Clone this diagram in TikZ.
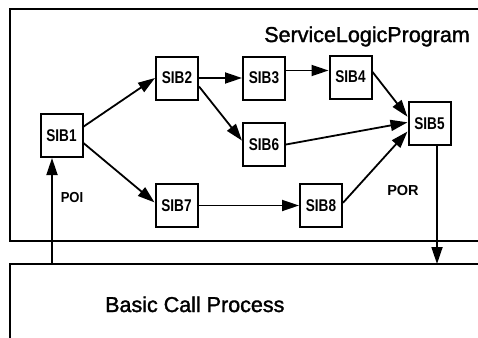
\documentclass[tikz,border=0pt]{standalone}
\usepackage{fontspec}
\setmainfont{Liberation Sans}
\newfontfamily\titlefont[FakeBold=1.5]{Liberation Sans}
\usepackage{graphicx}
\usetikzlibrary{arrows.meta}

% narrow, heavy lettering for the building-block labels
\newcommand{\siblabel}[1]{\scalebox{0.8}[1]{#1}}

\tikzset{
  sib/.style={draw, line width=2pt, minimum width=42pt, minimum height=43pt,
              inner sep=0pt, font=\fontsize{17}{17}\selectfont\bfseries},
  flow/.style={line width=1.8pt, -{Triangle[length=17pt,width=11pt]}},
  frame/.style={line width=1.7pt},
  pointlabel/.style={inner sep=0pt, font=\fontsize{14.5}{16}\selectfont\bfseries},
  title/.style={inner sep=0pt, font=\titlefont\fontsize{21.5}{24}\selectfont},
}

\begin{document}
\begin{tikzpicture}[x=1pt, y=-1pt]
  \useasboundingbox (0,0) rectangle (478,337);
  \clip (0,0) rectangle (478,337);

  % service logic program area and basic call process area (open to the right)
  \draw[frame] (480,9) -- (10,9) -- (10,241) -- (480,241);
  \draw[frame] (480,264) -- (10,264) -- (10,340);

  \node[title, anchor=base east] (slp) at (470,42) {ServiceLogicProgram};
  \node[title, anchor=base west] (bcp) at (105,312) {Basic Call Process};

  % service independent building blocks
  \node[sib] (SIB1) at (61.5,135.5) {\siblabel{SIB1}};
  \node[sib] (SIB2) at (177,78)     {\siblabel{SIB2}};
  \node[sib] (SIB3) at (264,78)     {\siblabel{SIB3}};
  \node[sib] (SIB4) at (350.5,77)   {\siblabel{SIB4}};
  \node[sib] (SIB5) at (429.5,123.5){\siblabel{SIB5}};
  \node[sib] (SIB6) at (264,144.5)  {\siblabel{SIB6}};
  \node[sib] (SIB7) at (176.5,205.5){\siblabel{SIB7}};
  \node[sib] (SIB8) at (321,205.5)  {\siblabel{SIB8}};

  % point of initiation and point of return
  \coordinate (poi) at (52,264);
  \coordinate (por) at (437,264);
  \node[pointlabel] (poilabel) at (72,197.5) {\scalebox{0.9}[1]{POI}};
  \node[pointlabel] (porlabel) at (403,191) {POR};

  % logic flow
  \draw[flow] (SIB1.22) -- (SIB2.west);
  \draw[flow] (SIB1.-19) -- (SIB7.172);
  \draw[flow] (SIB2.east) -- (SIB3.west);
  \draw[flow] ([yshift=7.5pt]SIB3.east) -- ([yshift=7.5pt]SIB3.east -| SIB4.west);
  \draw[flow] (SIB2.-21) -- (SIB6.170);
  \draw[flow] (SIB4.13) -- (SIB5.163);
  \draw[flow] (SIB6.east) -- (SIB5.177);
  \draw[flow] (SIB7.east) -- (SIB8.west);
  \draw[flow] (SIB8.7) -- (SIB5.200);

  \draw[flow] (poi) -- (poi |- SIB1.south);
  \draw[flow] (por |- SIB5.south) -- (por);
\end{tikzpicture}
\end{document}
